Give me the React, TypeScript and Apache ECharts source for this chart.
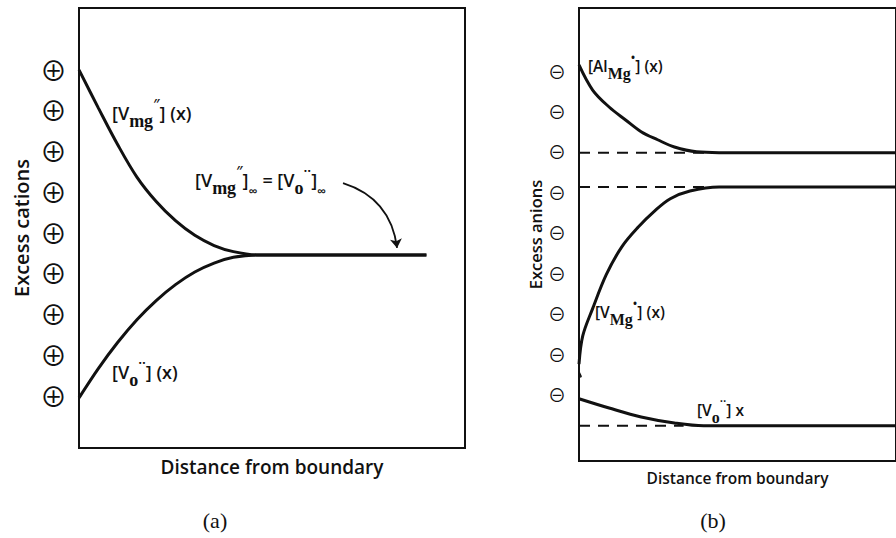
import React, { useEffect, useRef } from "react";
import * as echarts from "echarts";

// Left panel (a): excess cations
const cationLevels = [1, 2, 3, 4, 5, 6, 7, 8, 9];
const cationX = [0, 5, 10, 15, 20, 25, 30, 35, 40, 46, 52, 90];
const vmgLeftY = [8.98, 8.05, 7.15, 6.35, 5.75, 5.28, 4.92, 4.67, 4.52, 4.44, 4.44, 4.44];
const voLeftY = [0.93, 1.65, 2.29, 2.85, 3.32, 3.71, 4.02, 4.24, 4.38, 4.44, 4.44, 4.44];
const arrowFrom = [68.4, 6.2];
const arrowTo = [82.4, 4.61];

// Right panel (b): excess anions
const anionLevels = [1, 2, 3, 4, 5, 6, 7, 8, 9];
const alX = [0, 4.3, 9.5, 14.7, 19.6, 24.8, 30.1, 37.1, 44.2, 50, 100];
const alY = [9.14, 8.52, 8.1, 7.78, 7.49, 7.29, 7.11, 6.99, 6.97, 6.97, 6.97];
const vmgRightX = [0, 1.2, 4.3, 8.6, 13.5, 18.7, 23.9, 28.8, 35.0, 44.2, 50, 100];
const vmgRightY = [1.74, 2.44, 3.11, 3.95, 4.64, 5.13, 5.53, 5.83, 6.02, 6.12, 6.12, 6.12];
const voRightX = [0, 9.5, 19.6, 30.1, 39.3, 45, 100];
const voRightY = [0.88, 0.65, 0.43, 0.28, 0.21, 0.21, 0.21];
const alLevelX = [0, 40];
const alLevelY = [6.97, 6.97];
const vmgLevelX = [0, 40];
const vmgLevelY = [6.12, 6.12];
const voLevelX = [0, 33];
const voLevelY = [0.21, 0.21];
const breakX = [0, 0.7, -1.3, -0.6];
const breakY = [1.55, 1.43, 1.37, 1.25];

const zip = (xs: number[], ys: number[]) => xs.map((x, i) => [x, ys[i]]);

const INK = "#111";
const SANS = "'Open Sans', 'DejaVu Sans', sans-serif";
const SERIF = "'Liberation Serif', 'DejaVu Serif', serif";
const SYM = "'Noto Sans CJK JP', 'DejaVu Sans', sans-serif";

export default function App() {
  const ref = useRef<HTMLDivElement>(null);
  useEffect(() => {
    if (!ref.current) return;
    const chart = echarts.init(ref.current, undefined, { renderer: "svg" });

    const solid = (xi: number, data: number[][]) => ({
      type: "line",
      xAxisIndex: xi,
      yAxisIndex: xi,
      data,
      showSymbol: false,
      symbol: "none",
      smooth: 0.35,
      lineStyle: { color: INK, width: 3 },
      z: 3,
      silent: true,
    });
    const dashed = (data: number[][]) => ({
      type: "line",
      xAxisIndex: 1,
      yAxisIndex: 1,
      data,
      symbol: "none",
      lineStyle: { color: INK, width: 2, type: [11, 8] },
      z: 2,
      silent: true,
    });

    const richL = {
      sub: { fontFamily: SERIF, fontSize: 18, fontWeight: "bold", verticalAlign: "bottom", lineHeight: 34, color: INK },
      sup: { fontFamily: SANS, fontSize: 14, fontWeight: 600, verticalAlign: "top", lineHeight: 34, color: INK },
      inf: { fontFamily: SANS, fontSize: 13, fontWeight: 600, verticalAlign: "bottom", lineHeight: 30, color: INK },
    };
    const richR = {
      sub: { fontFamily: SERIF, fontSize: 16, fontWeight: "bold", verticalAlign: "bottom", lineHeight: 30, color: INK },
      sup: { fontFamily: SANS, fontSize: 12, fontWeight: 600, verticalAlign: "top", lineHeight: 30, color: INK },
    };
    const label = (x: number, y: number, text: string, size: number, rich: any, lh: number) => ({
      type: "text",
      x,
      y,
      silent: true,
      style: {
        text,
        fontFamily: SANS,
        fontSize: size,
        fontWeight: 600,
        lineHeight: lh,
        fill: INK,
        align: "left",
        verticalAlign: "middle",
        rich,
      },
    });

    const option: any = {
      animation: false,
      backgroundColor: "#fff",
      grid: [
        { left: 79, top: 8, width: 386, height: 440, show: true, borderColor: INK, borderWidth: 2, backgroundColor: "transparent" },
        { left: 579, top: 8, width: 326, height: 453, show: true, borderColor: INK, borderWidth: 2, backgroundColor: "transparent" },
      ],
      xAxis: [0, 1].map((i) => ({
        gridIndex: i,
        type: "value",
        min: 0,
        max: 100,
        axisLine: { show: false },
        axisTick: { show: false },
        axisLabel: { show: false },
        splitLine: { show: false },
        name: "Distance from boundary",
        nameLocation: "middle",
        nameGap: 9,
        nameTextStyle: { fontFamily: SANS, fontWeight: 600, fontSize: i === 0 ? 19 : 15.5, color: INK },
      })),
      yAxis: [
        {
          gridIndex: 0,
          type: "value",
          min: -0.3,
          max: 10.5,
          axisLine: { show: false },
          axisTick: { show: false },
          splitLine: { show: false },
          axisLabel: {
            customValues: cationLevels,
            formatter: () => "⊕",
            fontFamily: SYM,
            fontSize: 27,
            margin: 12,
            color: INK,
          },
          name: "Excess cations",
          nameLocation: "middle",
          nameRotate: 90,
          nameGap: 48,
          nameTextStyle: { fontFamily: SANS, fontWeight: 600, fontSize: 20, color: INK },
        },
        {
          gridIndex: 1,
          type: "value",
          min: -0.66,
          max: 10.55,
          axisLine: { show: false },
          axisTick: { show: false },
          splitLine: { show: false },
          axisLabel: {
            customValues: anionLevels,
            formatter: () => "⊖",
            fontFamily: SYM,
            fontSize: 18,
            margin: 13,
            color: INK,
          },
          name: "Excess anions",
          nameLocation: "middle",
          nameRotate: 90,
          nameGap: 32,
          nameTextStyle: { fontFamily: SANS, fontWeight: 600, fontSize: 16.5, color: INK },
        },
      ],
      series: [
        solid(0, zip(cationX, vmgLeftY)),
        solid(0, zip(cationX, voLeftY)),
        {
          type: "lines",
          coordinateSystem: "cartesian2d",
          xAxisIndex: 0,
          yAxisIndex: 0,
          data: [{ coords: [arrowFrom, arrowTo] }],
          symbol: ["none", "arrow"],
          symbolSize: [0, 9],
          lineStyle: { color: INK, width: 1.8, curveness: 0.32, opacity: 1 },
          silent: true,
          z: 4,
        },
        dashed(zip(alLevelX, alLevelY)),
        dashed(zip(vmgLevelX, vmgLevelY)),
        dashed(zip(voLevelX, voLevelY)),
        solid(1, zip(alX, alY)),
        solid(1, zip(vmgRightX, vmgRightY)),
        solid(1, zip(voRightX, voRightY)),
        {
          type: "line",
          xAxisIndex: 1,
          yAxisIndex: 1,
          data: zip(breakX, breakY),
          symbol: "none",
          clip: false,
          lineStyle: { color: INK, width: 1.5 },
          z: 5,
          silent: true,
        },
      ],
      graphic: [
        label(112, 113, "[V{sub|mg}{sup|″}] (x)", 18, richL, 34),
        label(195, 180, "[V{sub|mg}{sup|″}]{inf|∞} = [V{sub|o}{sup|··}]{inf|∞}", 18, richL, 34),
        label(112, 372, "[V{sub|o}{sup|··}] (x)", 18, richL, 34),
        label(588, 66, "[Al{sub|Mg}{sup|•}] (x)", 15.5, richR, 30),
        label(595, 312, "[V{sub|Mg}{sup|•}] (x)", 15.5, richR, 30),
        label(697, 410, "[V{sub|o}{sup|··}] x", 15.5, richR, 30),
        {
          type: "text",
          x: 215,
          y: 520,
          silent: true,
          style: { text: "(a)", fontFamily: SERIF, fontSize: 22, fill: INK, align: "center", verticalAlign: "middle" },
        },
        {
          type: "text",
          x: 713,
          y: 520,
          silent: true,
          style: { text: "(b)", fontFamily: SERIF, fontSize: 22, fill: INK, align: "center", verticalAlign: "middle" },
        },
      ],
    };
    chart.setOption(option);
    return () => chart.dispose();
  }, []);
  return (
    <div
      ref={ref}
      style={{ position: "fixed", left: 0, top: 0, width: 896, height: 538, background: "#fff" }}
    />
  );
}
